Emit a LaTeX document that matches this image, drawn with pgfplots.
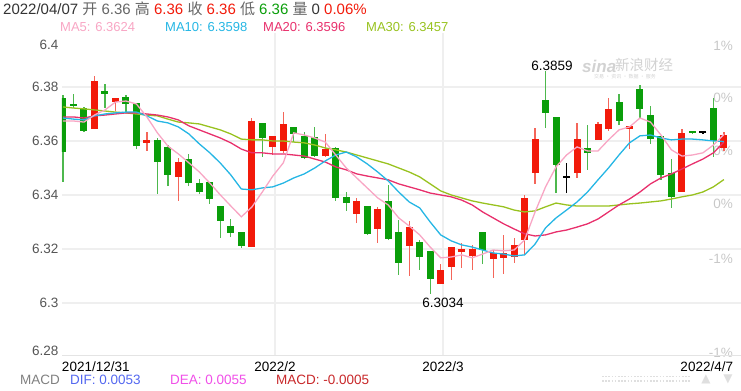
\documentclass[border=0pt]{standalone}
\usepackage{pgfplots}
\pgfplotsset{compat=1.18}
\usepackage{pgfplotstable}
\usepackage{fontspec}
\setmainfont{Liberation Sans}
\newfontfamily\cjk{Noto Sans CJK SC}
\newfontfamily\sym{DejaVu Sans}
\newcommand\fs{\fontsize{13.5bp}{16bp}\selectfont}
\newcommand\fst{\fontsize{15bp}{17bp}\selectfont}
\newcommand\fsl{\fontsize{13bp}{15bp}\selectfont}
\pgfdeclarelayer{bglayer}
\pgfsetlayers{bglayer,main}

\definecolor{upr}{HTML}{F21A0A}
\definecolor{dng}{HTML}{0A9E0A}
\definecolor{upw}{HTML}{F4665A}
\definecolor{dnw}{HTML}{4DB84D}
\definecolor{maA}{HTML}{F8A6C4}
\definecolor{maB}{HTML}{25B6E4}
\definecolor{maC}{HTML}{E8306C}
\definecolor{maD}{HTML}{98C21F}
\definecolor{gridc}{HTML}{EFEFEF}
\definecolor{botc}{HTML}{E4E4E4}
\definecolor{ticktxt}{HTML}{555555}
\definecolor{pcttxt}{HTML}{C8C8C8}
\definecolor{wm}{HTML}{D2D2D2}
\definecolor{t333}{HTML}{333333}
\definecolor{t666}{HTML}{666666}
\definecolor{difc}{HTML}{5468F0}
\definecolor{deac}{HTML}{F050E8}
\definecolor{macdc}{HTML}{C8282A}

% i open high low close
\pgfplotstableread{
i o h l c
4 6.3644 6.3841 6.3644 6.3822
6 6.3744 6.3759 6.3711 6.3759
9 6.3593 6.3633 6.3563 6.3604
12 6.3467 6.3537 6.3378 6.3522
19 6.3207 6.3685 6.3207 6.3674
21 6.3578 6.3618 6.3548 6.3618
22 6.3563 6.3707 6.3556 6.3663
26 6.3544 6.3626 6.3541 6.3570
29 6.3330 6.3389 6.3296 6.3378
31 6.3274 6.3356 6.3222 6.3348
34 6.3211 6.3304 6.3100 6.3281
37 6.3070 6.3144 6.3070 6.3122
38 6.3133 6.3207 6.3085 6.3207
39 6.3189 6.3222 6.3130 6.3200
40 6.3174 6.3215 6.3122 6.3200
42 6.3163 6.3196 6.3093 6.3185
43 6.3167 6.3252 6.3107 6.3185
44 6.3170 6.3241 6.3148 6.3215
45 6.3233 6.3400 6.3178 6.3389
46 6.3481 6.3648 6.3441 6.3607
50 6.3481 6.3667 6.3463 6.3607
52 6.3604 6.3670 6.3604 6.3663
53 6.3644 6.3759 6.3637 6.3719
55 6.3644 6.3656 6.3570 6.3656
60 6.3411 6.3644 6.3411 6.3630
64 6.3574 6.3633 6.3563 6.3622
}\redtab

\pgfplotstableread{
i o h l c
1 6.3759 6.3770 6.3448 6.3559
2 6.3737 6.3774 6.3722 6.3730
3 6.3722 6.3726 6.3633 6.3637
5 6.3785 6.3811 6.3722 6.3774
7 6.3763 6.3770 6.3707 6.3737
8 6.3741 6.3741 6.3570 6.3581
10 6.3604 6.3611 6.3404 6.3522
11 6.3578 6.3585 6.3433 6.3474
13 6.3533 6.3552 6.3433 6.3444
14 6.3444 6.3459 6.3404 6.3411
15 6.3448 6.3448 6.3367 6.3385
16 6.3359 6.3359 6.3241 6.3304
17 6.3285 6.3311 6.3244 6.3259
18 6.3263 6.3263 6.3204 6.3211
20 6.3667 6.3667 6.3541 6.3611
23 6.3652 6.3652 6.3596 6.3626
24 6.3618 6.3633 6.3533 6.3537
25 6.3615 6.3652 6.3541 6.3544
27 6.3574 6.3578 6.3378 6.3389
28 6.3393 6.3411 6.3341 6.3370
30 6.3359 6.3359 6.3252 6.3256
32 6.3378 6.3437 6.3233 6.3237
33 6.3263 6.3307 6.3104 6.3148
35 6.3226 6.3233 6.3122 6.3170
36 6.3193 6.3193 6.3034 6.3089
41 6.3263 6.3263 6.3144 6.3196
47 6.3752 6.3859 6.3648 6.3704
48 6.3689 6.3689 6.3407 6.3511
51 6.3574 6.3659 6.3493 6.3556
54 6.3744 6.3774 6.3659 6.3674
56 6.3793 6.3807 6.3681 6.3719
57 6.3696 6.3730 6.3589 6.3607
58 6.3619 6.3619 6.3456 6.3474
59 6.3481 6.3533 6.3352 6.3393
61 6.3636 6.3636 6.3626 6.3630
63 6.3722 6.3759 6.3541 6.3600
}\greentab

\pgfplotstableread{
i o h l c
49 6.3467 6.3519 6.3407 6.3467
62 6.3633 6.3633 6.3626 6.3633
}\dojitab

% i MA5 MA10 MA20 MA30
\pgfplotstableread{
i m5 m10 m20 m30
1 6.3674 6.3685 6.3689 6.3726
2 6.3674 6.3681 6.3689 6.3722
3 6.3670 6.3678 6.3685 6.3719
4 6.3696 6.3693 6.3693 6.3715
5 6.3715 6.3700 6.3696 6.3711
6 6.3744 6.3704 6.3700 6.3707
7 6.3748 6.3707 6.3704 6.3704
8 6.3737 6.3707 6.3704 6.3700
9 6.3689 6.3693 6.3700 6.3696
10 6.3630 6.3674 6.3696 6.3693
11 6.3581 6.3667 6.3689 6.3681
12 6.3552 6.3652 6.3678 6.3670
13 6.3519 6.3626 6.3656 6.3667
14 6.3485 6.3589 6.3641 6.3663
15 6.3444 6.3556 6.3626 6.3652
16 6.3400 6.3518 6.3611 6.3641
17 6.3359 6.3474 6.3593 6.3626
18 6.3319 6.3422 6.3570 6.3607
19 6.3355 6.3419 6.3556 6.3604
20 6.3411 6.3426 6.3556 6.3604
21 6.3470 6.3430 6.3552 6.3600
22 6.3519 6.3444 6.3552 6.3600
23 6.3630 6.3463 6.3548 6.3596
24 6.3622 6.3478 6.3544 6.3593
25 6.3611 6.3500 6.3533 6.3585
26 6.3596 6.3526 6.3522 6.3574
27 6.3548 6.3548 6.3504 6.3567
28 6.3500 6.3559 6.3493 6.3559
29 6.3463 6.3541 6.3478 6.3548
30 6.3426 6.3515 6.3470 6.3537
31 6.3389 6.3485 6.3463 6.3526
32 6.3363 6.3452 6.3456 6.3515
33 6.3315 6.3411 6.3441 6.3500
34 6.3285 6.3374 6.3430 6.3485
35 6.3252 6.3352 6.3419 6.3467
36 6.3207 6.3300 6.3407 6.3441
37 6.3167 6.3252 6.3400 6.3415
38 6.3170 6.3230 6.3393 6.3400
39 6.3178 6.3215 6.3381 6.3389
40 6.3167 6.3207 6.3363 6.3378
41 6.3181 6.3196 6.3337 6.3370
42 6.3196 6.3185 6.3315 6.3363
43 6.3193 6.3181 6.3293 6.3356
44 6.3196 6.3174 6.3274 6.3344
45 6.3233 6.3178 6.3256 6.3337
46 6.3337 6.3218 6.3248 6.3341
47 6.3430 6.3278 6.3252 6.3356
48 6.3504 6.3315 6.3263 6.3370
49 6.3548 6.3344 6.3270 6.3363
50 6.3578 6.3374 6.3281 6.3359
51 6.3563 6.3411 6.3293 6.3359
52 6.3563 6.3456 6.3311 6.3359
53 6.3604 6.3500 6.3337 6.3359
54 6.3641 6.3548 6.3363 6.3363
55 6.3652 6.3593 6.3385 6.3367
56 6.3685 6.3619 6.3411 6.3370
57 6.3670 6.3622 6.3441 6.3374
58 6.3622 6.3611 6.3463 6.3378
59 6.3567 6.3604 6.3478 6.3385
60 6.3544 6.3607 6.3496 6.3393
61 6.3548 6.3607 6.3515 6.3400
62 6.3556 6.3604 6.3533 6.3411
63 6.3585 6.3600 6.3556 6.3430
64 6.3624 6.3598 6.3596 6.3457
}\matab

\begin{document}
\begin{tikzpicture}[x=1bp,y=1bp]
\begin{axis}[
  scale only axis,
  width=679bp, height=322bp,
  xmin=0.905, xmax=65.63, ymin=6.2807, ymax=6.4,
  axis line style={draw=none},
  major tick length=0pt,
  xtick={21.21,37.23}, xticklabels={2022/2,2022/3},
  extra x ticks={0.905,64.87},
  extra x tick labels={\makebox[0pt][l]{2021/12/31},\makebox[0pt][r]{2022/4/7}},
  extra x tick style={grid=none},
  xticklabel style={font=\fs, text=black, anchor=base, yshift=-16bp},
  ytick={6.3,6.32,6.34,6.36,6.38},
  yticklabels={6.3,6.32,6.34,6.36,6.38},
  extra y ticks={6.4,6.2807},
  extra y tick labels={\raisebox{-12bp}[\height][\depth]{6.4},\raisebox{4bp}[\height][\depth]{6.28}},
  extra y tick style={grid=none},
  yticklabel style={font=\fs, text=ticktxt},
  xmajorgrids, ymajorgrids,
  grid style={draw=gridc, line width=1.5bp},
]
\coordinate (O) at (rel axis cs:0,0);
% wicks
\addplot[draw=none, mark=none, forget plot,
  error bars/.cd, y dir=plus, y explicit, error mark=none,
  error bar style={line width=1.2bp, draw=upw}]
  table[x=i, y=l, y error plus expr=\thisrow{h}-\thisrow{l}] {\redtab};
\addplot[draw=none, mark=none, forget plot,
  error bars/.cd, y dir=plus, y explicit, error mark=none,
  error bar style={line width=1.2bp, draw=dnw}]
  table[x=i, y=l, y error plus expr=\thisrow{h}-\thisrow{l}] {\greentab};
\addplot[draw=none, mark=none, forget plot,
  error bars/.cd, y dir=plus, y explicit, error mark=none,
  error bar style={line width=1.2bp, draw=black}]
  table[x=i, y=l, y error plus expr=\thisrow{h}-\thisrow{l}] {\dojitab};
% bodies
\addplot[draw=none, mark=none, forget plot,
  error bars/.cd, y dir=plus, y explicit, error mark=none,
  error bar style={line width=7bp, draw=upr}]
  table[x=i, y=o, y error plus expr=\thisrow{c}-\thisrow{o}] {\redtab};
\addplot[draw=none, mark=none, forget plot,
  error bars/.cd, y dir=plus, y explicit, error mark=none,
  error bar style={line width=7bp, draw=dng}]
  table[x=i, y=c, y error plus expr=\thisrow{o}-\thisrow{c}] {\greentab};
\addplot[only marks, mark=-, mark size=3.5bp, mark options={line width=1.3bp, draw=black}, forget plot]
  table[x=i, y=c] {\dojitab};
% moving averages
\addplot[maD, line width=1.3bp, mark=none] table[x=i, y=m30] {\matab};
\addplot[maC, line width=1.3bp, mark=none] table[x=i, y=m20] {\matab};
\addplot[maB, line width=1.3bp, mark=none] table[x=i, y=m10] {\matab};
\addplot[maA, line width=1.3bp, mark=none] table[x=i, y=m5] {\matab};
\end{axis}

\begin{scope}[shift={(O)}]
\begin{scope}[shift={(-62,-35)}]
\begin{pgfonlayer}{bglayer}
% right-hand percent labels (under the chart)
\foreach \yy/\lab in {340/1\%, 288/0\%, 235/0\%, 182/0\%, 127/-1\%, 33/-1\%}
  \node[anchor=base east, inner sep=0pt, text=pcttxt, font=\fs] at (733,\yy) {\lab};
% watermark
\node[anchor=west, inner sep=0pt, text=wm] at (582,324) {\fontsize{17bp}{18bp}\selectfont\bfseries\itshape sina};
\node[anchor=west, inner sep=0pt, text=wm] at (615,325) {\cjk\fontsize{14.5bp}{16bp}\selectfont 新浪财经};
\node[anchor=west, inner sep=0pt, text=wm] at (594,313) {\cjk\fontsize{5bp}{6bp}\selectfont 交易 · 资讯 · 数据 · 服务};
\end{pgfonlayer}

\draw[botc, line width=1bp] (62,35) -- (741,35);

% extreme value notes
\node[anchor=base, inner sep=0pt, font=\fs, text=black] at (552,320) {6.3859};
\node[anchor=base, inner sep=0pt, font=\fs, text=black] at (443,83) {6.3034};

% header
\node[anchor=base west, inner sep=0pt, font=\fst, text=t333] at (3,375.5)
  {2022/04/07 \textcolor{t666}{{\cjk 开} 6.36 {\cjk 高}} \textcolor{upr}{6.36} \textcolor{t666}{\cjk 收} \textcolor{upr}{6.36} \textcolor{t666}{\cjk 低} \textcolor{dng}{6.36} \textcolor{t666}{\cjk 量} 0 \textcolor{upr}{0.06\%}};
\node[anchor=base west, inner sep=0pt, font=\fsl, text=maA] at (60,358.5) {MA5: 6.3624};
\node[anchor=base west, inner sep=0pt, font=\fsl, text=maB] at (165,358.5) {MA10: 6.3598};
\node[anchor=base west, inner sep=0pt, font=\fsl, text=maC] at (263,358.5) {MA20: 6.3596};
\node[anchor=base west, inner sep=0pt, font=\fsl, text=maD] at (366,358.5) {MA30: 6.3457};

% MACD row
\node[anchor=base west, inner sep=0pt, font=\fs, text=gray] at (20,6) {MACD};
\node[anchor=base west, inner sep=0pt, font=\fs, text=difc] at (70,6) {DIF: 0.0053};
\node[anchor=base west, inner sep=0pt, font=\fs, text=deac] at (170,6) {DEA: 0.0055};
\node[anchor=base west, inner sep=0pt, font=\fs, text=macdc] at (276,6) {MACD: -0.0005};
\draw[gray!25, line width=1.6bp, dash pattern=on 1.6bp off 1.6bp] (602,13.5) -- (690,13.5);
\draw[gray!25, line width=1.6bp, dash pattern=on 1.6bp off 1.6bp] (602,9) -- (690,9);
\node[inner sep=0pt, text=gray!25] at (706,11) {\sym\fontsize{12bp}{13bp}\selectfont ▲};
\node[inner sep=0pt, text=gray!25] at (728,11) {\sym\fontsize{12bp}{13bp}\selectfont ▼};

\pgfresetboundingbox
\path[use as bounding box] (0,0) rectangle (741,390);
\end{scope}
\end{scope}
\end{tikzpicture}
\end{document}
